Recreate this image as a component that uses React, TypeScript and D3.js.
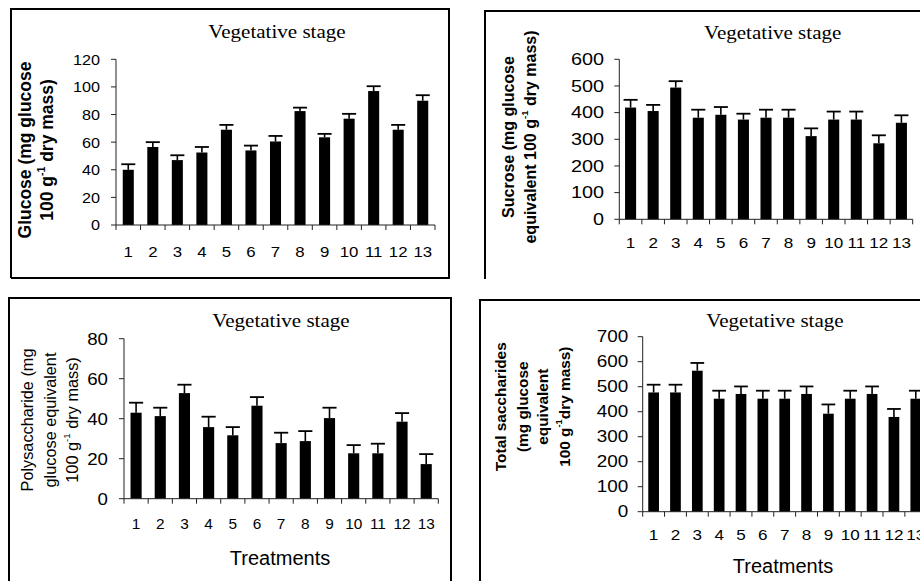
import React from 'react';
import * as d3 from 'd3';

const treatments = ['1', '2', '3', '4', '5', '6', '7', '8', '9', '10', '11', '12', '13'];

const glucose = [40, 56.5, 47, 52.5, 69, 54, 60.5, 82.5, 63.5, 77, 97, 69, 90];
const glucoseErr = [4, 3.5, 3.5, 4, 3.5, 3.5, 4, 2.5, 2.5, 3.5, 3.5, 3.5, 4];
const glucoseTicks = [0, 20, 40, 60, 80, 100, 120];

const sucrose = [419, 406, 494, 381, 392, 374, 381, 381, 312, 374, 374, 285, 362];
const sucroseErr = [29, 23, 24, 30, 29, 22, 30, 30, 29, 30, 30, 30, 28];
const sucroseTicks = [0, 100, 200, 300, 400, 500, 600];

const polysaccharide = [43, 41.3, 52.8, 35.8, 31.7, 46.5, 27.8, 28.8, 40.3, 22.7, 22.7, 38.5, 17.3];
const polysaccharideErr = [5, 4.2, 4.2, 5.2, 4.1, 4.3, 5.2, 5, 5.2, 4.1, 4.8, 4.3, 5];
const polysaccharideTicks = [0, 20, 40, 60, 80];

const total = [477, 477, 564, 452, 471, 452, 452, 471, 392, 452, 471, 379, 452];
const totalErr = [31, 31, 31, 32, 30, 32, 32, 30, 37, 32, 30, 32, 32];
const totalTicks = [0, 100, 200, 300, 400, 500, 600, 700];

const title = 'Vegetative stage';
const SANS = 'Liberation Sans, Arial, sans-serif';
const SERIF = 'Liberation Serif, Times New Roman, serif';

// one y-label line is an array of parts; 'sup' parts go up
type Part = { t: string; sup?: boolean };
const g1: Part[] = [{ t: '100 g' }, { t: '-1', sup: true }];

const Txt = ({ x, y, size, sx = 1, anchor = 'middle', family = SANS, children }: any) => (
  <text
    transform={`translate(${x},${y}) scale(${sx},1)`}
    fontSize={size}
    fontFamily={family}
    textAnchor={anchor}
    fill="#000"
  >
    {children}
  </text>
);

const Panel = ({ cfg }: any) => {
  const { box, plot, values, errs, ticks, yLines, yLab, tickFont, xFont, titlePos, treatPos } = cfg;
  const x = d3
    .scaleBand()
    .domain(treatments)
    .range([plot.x0, plot.x1])
    .paddingInner(plot.pad)
    .paddingOuter(plot.pad / 2);
  const y = d3
    .scaleLinear()
    .domain([0, ticks[ticks.length - 1]])
    .range([plot.y0, plot.yTop]);
  const step = x.step();
  const bw = x.bandwidth();

  return (
    <g>
      <path
        d={`M${box.l},${box.b}V${box.t}H${box.r}${box.closeR ? `V${box.b}` : ''}${box.closeB ? `H${box.l}` : ''}`}
        fill="none"
        stroke="#000"
        strokeWidth={2}
      />
      {/* title */}
      <Txt x={titlePos[0]} y={titlePos[1]} size={18} sx={1.17} family={SERIF}>
        {title}
      </Txt>
      {/* bars */}
      {values.map((v: number, i: number) => {
        const cx = (x(treatments[i]) as number) + bw / 2;
        return (
          <g key={i}>
            <rect x={x(treatments[i])} y={y(v)} width={bw} height={plot.y0 - y(v)} fill="#000" />
            <line x1={cx} x2={cx} y1={y(v)} y2={y(v + errs[i])} stroke="#000" strokeWidth={1.6} />
            <line
              x1={cx - bw / 2 - 1.5}
              x2={cx + bw / 2 + 1.5}
              y1={y(v + errs[i])}
              y2={y(v + errs[i])}
              stroke="#000"
              strokeWidth={1.8}
            />
          </g>
        );
      })}
      {/* y axis */}
      <line x1={plot.x0} x2={plot.x0} y1={plot.y0} y2={plot.yTop} stroke="#222" strokeWidth={1} />
      {ticks.map((t: number) => (
        <g key={t}>
          <line x1={plot.x0 - 5} x2={plot.x0} y1={y(t)} y2={y(t)} stroke="#222" strokeWidth={1} />
          <Txt x={tickFont.right} y={y(t) + tickFont.size * 0.36} size={tickFont.size} sx={tickFont.sx} anchor="end">
            {t}
          </Txt>
        </g>
      ))}
      {/* x axis */}
      <line x1={plot.x0} x2={plot.x1} y1={plot.y0} y2={plot.y0} stroke="#222" strokeWidth={1} />
      {d3.range(treatments.length + 1).map((i) => (
        <line
          key={i}
          x1={plot.x0 + i * step}
          x2={plot.x0 + i * step}
          y1={plot.y0}
          y2={plot.y0 + 5}
          stroke="#222"
          strokeWidth={1}
        />
      ))}
      {treatments.map((t) => (
        <Txt key={t} x={(x(t) as number) + bw / 2} y={xFont.base} size={xFont.size} sx={xFont.sx}>
          {t}
        </Txt>
      ))}
      {treatPos && (
        <Txt x={treatPos[0]} y={treatPos[1]} size={20}>
          Treatments
        </Txt>
      )}
      {/* y label */}
      {yLines.map((parts: Part[], li: number) => (
        <text
          key={li}
          transform={`translate(${yLab.xs[li]},${yLab.cy}) rotate(-90)`}
          fontSize={yLab.size}
          fontWeight={yLab.bold ? 'bold' : 'normal'}
          fontFamily={SANS}
          textAnchor="middle"
          dominantBaseline="central"
          fill="#000"
        >
          {parts.map((p, pi) => (
            <tspan key={pi} baselineShift={p.sup ? 'super' : undefined} fontSize={p.sup ? yLab.size * 0.6 : undefined}>
              {p.t}
            </tspan>
          ))}
        </text>
      ))}
    </g>
  );
};

const panels = [
  {
    box: { l: 11, t: 9, r: 449, b: 278, closeR: true, closeB: true },
    plot: { x0: 116, x1: 435, y0: 225, yTop: 59.3, pad: 0.55 },
    values: glucose,
    errs: glucoseErr,
    ticks: glucoseTicks,
    yLines: [[{ t: 'Glucose (mg glucose' }], [...g1, { t: ' dry mass)' }]],
    yLab: { xs: [25, 47], cy: 150, size: 17.5, bold: true },
    tickFont: { right: 100, size: 15, sx: 1.08 },
    xFont: { base: 257, size: 14, sx: 1.2 },
    titlePos: [277, 38],
  },
  {
    box: { l: 485, t: 11, r: 930, b: 279, closeR: false, closeB: true },
    plot: { x0: 619.3, x1: 912.7, y0: 219.3, yTop: 59.3, pad: 0.51 },
    values: sucrose,
    errs: sucroseErr,
    ticks: sucroseTicks,
    yLines: [[{ t: 'Sucrose (mg glucose' }], [{ t: 'equivalent ' }, ...g1, { t: ' dry mass)' }]],
    yLab: { xs: [508, 530], cy: 137, size: 16, bold: true },
    tickFont: { right: 604, size: 16, sx: 1.24 },
    xFont: { base: 248, size: 14, sx: 1.22 },
    titlePos: [772.7, 39],
  },
  {
    box: { l: 9, t: 298, r: 451, b: 600, closeR: true, closeB: false },
    plot: { x0: 124, x1: 438.3, y0: 498.7, yTop: 338.7, pad: 0.54 },
    values: polysaccharide,
    errs: polysaccharideErr,
    ticks: polysaccharideTicks,
    yLines: [[{ t: 'Polysaccharide (mg' }], [{ t: 'glucose equivalent' }], [...g1, { t: ' dry mass)' }]],
    yLab: { xs: [26.7, 49.5, 71.7], cy: 420, size: 16.3, bold: false },
    tickFont: { right: 108, size: 17, sx: 1.1 },
    xFont: { base: 529, size: 14, sx: 1.1 },
    titlePos: [281, 326.7],
    treatPos: [280, 565],
  },
  {
    box: { l: 480, t: 300, r: 930, b: 600, closeR: false, closeB: false },
    plot: { x0: 642.7, x1: 926.7, y0: 511.7, yTop: 336.7, pad: 0.51 },
    values: total,
    errs: totalErr,
    ticks: totalTicks,
    yLines: [
      [{ t: 'Total saccharides' }],
      [{ t: '(mg glucose' }],
      [{ t: 'equivalent' }],
      [...g1, { t: 'dry mass)' }],
    ],
    yLab: { xs: [500, 521.7, 541.7, 564], cy: 406.7, size: 15.4, bold: true },
    tickFont: { right: 628.3, size: 16, sx: 1.18 },
    xFont: { base: 540, size: 14, sx: 1.22 },
    titlePos: [775, 326.7],
    treatPos: [783, 572.7],
  },
];

export default function App() {
  return (
    <svg
      width={920}
      height={581}
      style={{ position: 'absolute', left: 0, top: 0, background: '#fff' }}
    >
      <rect width={920} height={581} fill="#fff" />
      {panels.map((p, i) => (
        <Panel key={i} cfg={p} />
      ))}
    </svg>
  );
}
